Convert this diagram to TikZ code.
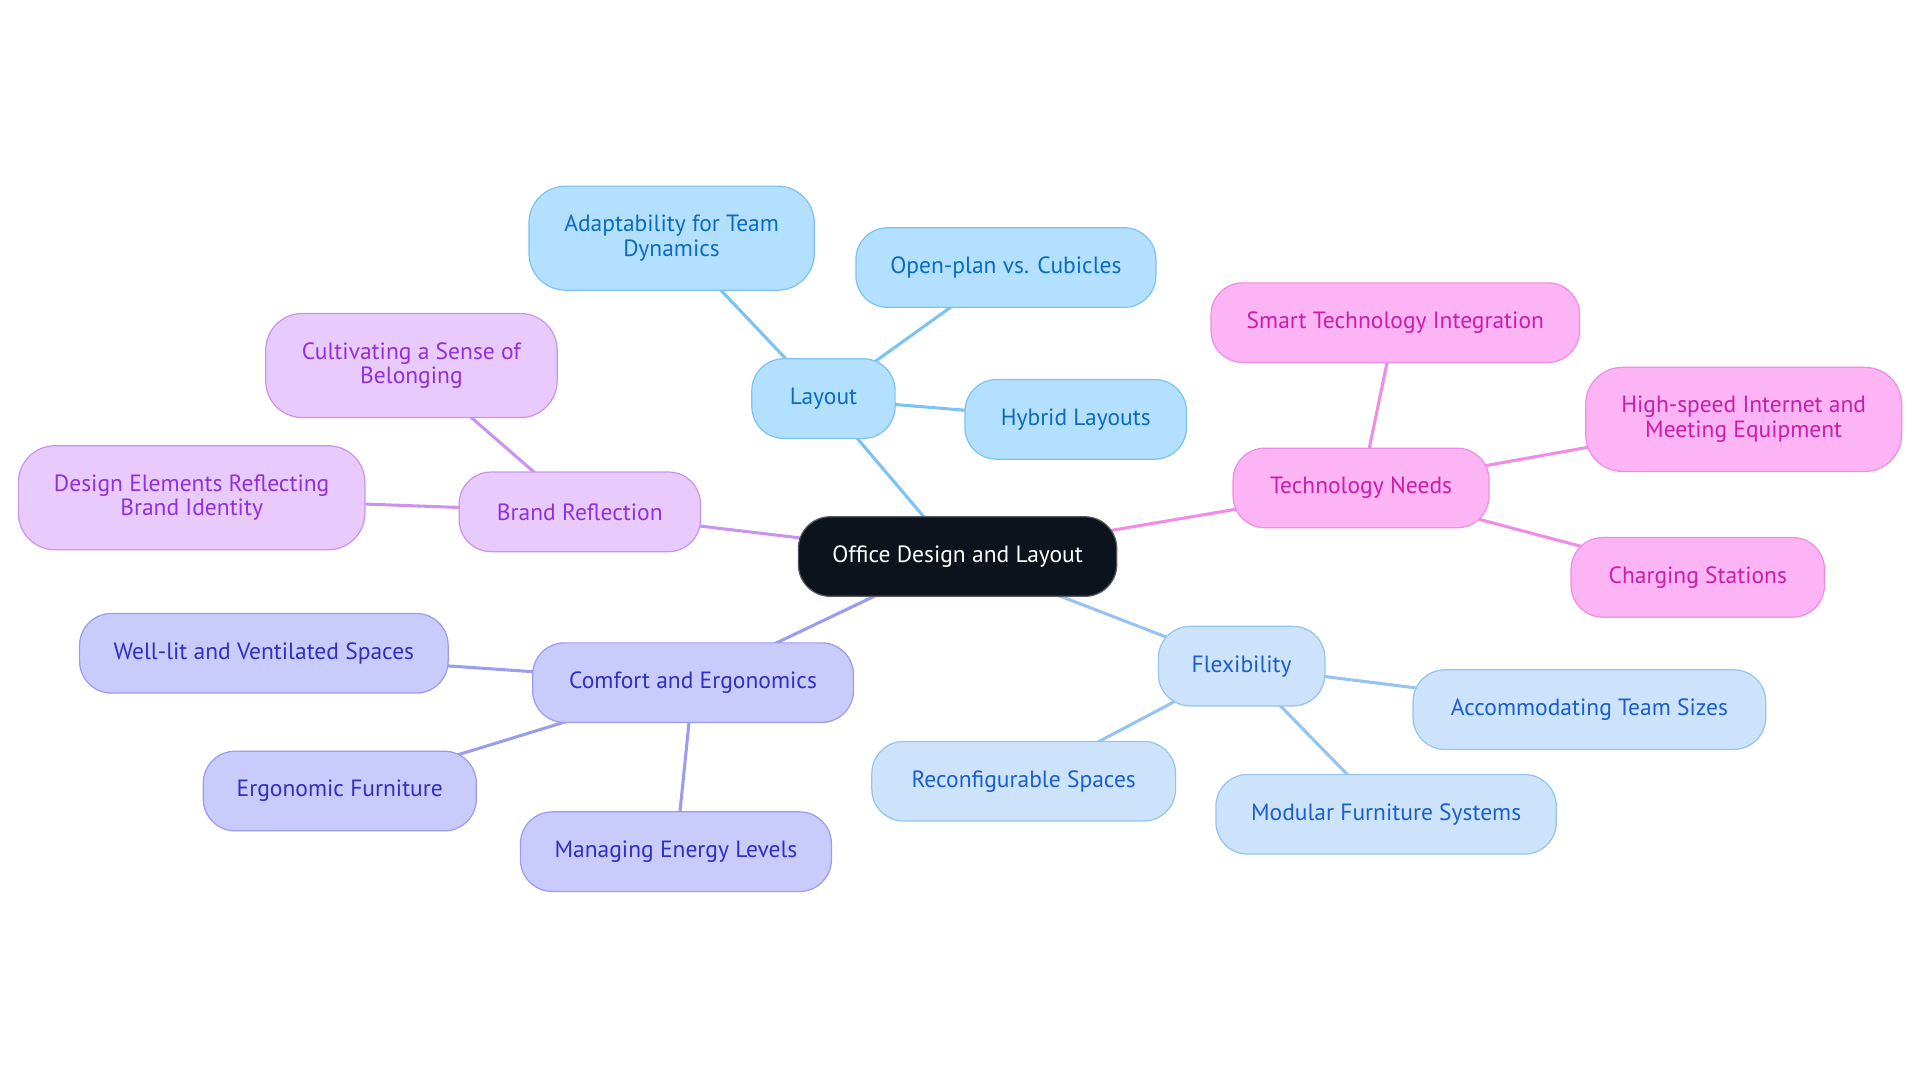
\documentclass[tikz,border=0pt]{standalone}
\usepackage{fontspec}
\setmainfont{PT Sans}
\pgfdeclarelayer{bg}
\pgfsetlayers{bg,main}
\definecolor{layF}{HTML}{B4E0FF}\definecolor{layD}{HTML}{7CC2F2}\definecolor{layT}{HTML}{0B6BC0}
\definecolor{tecF}{HTML}{FDB4F4}\definecolor{tecD}{HTML}{F08CE6}\definecolor{tecT}{HTML}{C81EA8}
\definecolor{flxF}{HTML}{CDE3FB}\definecolor{flxD}{HTML}{96C3F0}\definecolor{flxT}{HTML}{1A5FCC}
\definecolor{comF}{HTML}{C9CBFD}\definecolor{comD}{HTML}{9A9CF0}\definecolor{comT}{HTML}{2F2FC0}
\definecolor{brdF}{HTML}{E8CAFD}\definecolor{brdD}{HTML}{CB93F0}\definecolor{brdT}{HTML}{9130D8}
\definecolor{ctrF}{HTML}{0D131C}
\tikzset{
  box/.style={rounded corners=26pt, line width=1pt, inner sep=0pt, align=center,
    font=\fontsize{19.2}{20}\selectfont, minimum height=65pt},
  lay/.style={box, fill=layF, draw=layD, text=layT},
  tec/.style={box, fill=tecF, draw=tecD, text=tecT},
  flx/.style={box, fill=flxF, draw=flxD, text=flxT},
  com/.style={box, fill=comF, draw=comD, text=comT},
  brd/.style={box, fill=brdF, draw=brdD, text=brdT},
  ctr/.style={box, fill=ctrF, draw=ctrF!70!white, text=white},
  tall/.style={minimum height=85pt, rounded corners=30pt},
  edge/.style={line width=2.5pt},
}
\begin{document}
\begin{tikzpicture}[x=1pt,y=-1pt]
\useasboundingbox (0,0) rectangle (1568,884);
\node[ctr, minimum width=260pt] (c) at (782,454.5) {Office Design and Layout};
% Layout
\node[lay, minimum width=117pt] (lay) at (672.5,325.5) {Layout};
\node[lay, tall, minimum width=233pt] (adapt) at (548.5,194.5) {Adaptability for Team\\Dynamics};
\node[lay, minimum width=245pt] (open) at (821.5,218.5) {Open-plan vs. Cubicles};
\node[lay, minimum width=181pt] (hyb) at (878.5,342.5) {Hybrid Layouts};
% Technology
\node[tec, minimum width=209pt] (tec) at (1111.5,398.5) {Technology Needs};
\node[tec, minimum width=301pt] (smart) at (1139.5,263.5) {Smart Technology Integration};
\node[tec, tall, minimum width=258pt] (high) at (1424,342.5) {High-speed Internet and\\Meeting Equipment};
\node[tec, minimum width=207pt] (charge) at (1386.5,471.5) {Charging Stations};
% Flexibility
\node[flx, minimum width=136pt] (flx) at (1014,544) {Flexibility};
\node[flx, minimum width=288pt] (acc) at (1298,579.5) {Accommodating Team Sizes};
\node[flx, minimum width=248pt] (rec) at (836,638) {Reconfigurable Spaces};
\node[flx, minimum width=278pt] (mod) at (1132,665) {Modular Furniture Systems};
% Comfort
\node[com, minimum width=262pt] (com) at (566,557.5) {Comfort and Ergonomics};
\node[com, minimum width=301pt] (well) at (215.5,533.5) {Well-lit and Ventilated Spaces};
\node[com, minimum width=223pt] (ergo) at (277.5,646) {Ergonomic Furniture};
\node[com, minimum width=254pt] (man) at (552,695.5) {Managing Energy Levels};
% Brand
\node[brd, minimum width=197pt] (brd) at (473.5,418) {Brand Reflection};
\node[brd, tall, minimum width=238pt] (cult) at (336,298.5) {Cultivating a Sense of\\Belonging};
\node[brd, tall, minimum width=283pt] (des) at (156.5,406.5) {Design Elements Reflecting\\Brand Identity};
\begin{pgfonlayer}{bg}
\draw[edge, layD] (c.center) -- (lay.center);
\draw[edge, layD] (lay.center) -- (adapt.center);
\draw[edge, layD] (lay.center) -- (open.center);
\draw[edge, layD] (lay.center) -- (hyb.center);
\draw[edge, tecD] (c.center) -- (tec.center);
\draw[edge, tecD] (tec.center) -- (smart.center);
\draw[edge, tecD] (tec.center) -- (high.center);
\draw[edge, tecD] (tec.center) -- (charge.center);
\draw[edge, flxD] (c.center) -- (flx.center);
\draw[edge, flxD] (flx.center) -- (acc.center);
\draw[edge, flxD] (flx.center) -- (rec.center);
\draw[edge, flxD] (flx.center) -- (mod.center);
\draw[edge, comD] (c.center) -- (com.center);
\draw[edge, comD] (com.center) -- (well.center);
\draw[edge, comD] (com.center) -- (ergo.center);
\draw[edge, comD] (com.center) -- (man.center);
\draw[edge, brdD] (c.center) -- (brd.center);
\draw[edge, brdD] (brd.center) -- (cult.center);
\draw[edge, brdD] (brd.center) -- (des.center);
\end{pgfonlayer}
\end{tikzpicture}
\end{document}
